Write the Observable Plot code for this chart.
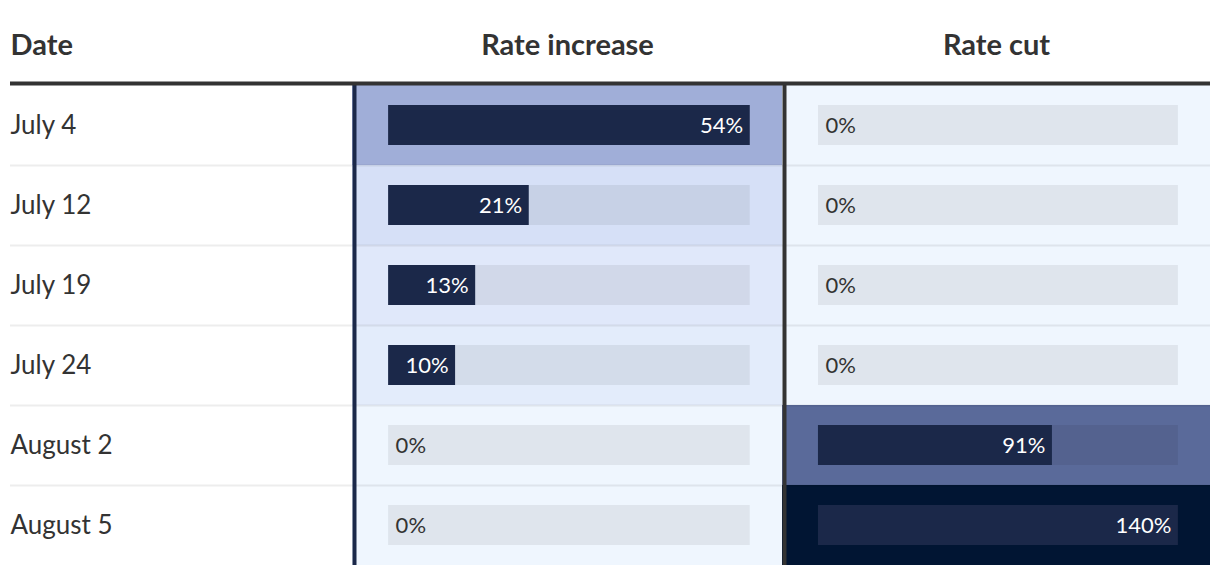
<!DOCTYPE html>
<html>
<head>
<meta charset="utf-8">
<script src="https://cdn.jsdelivr.net/npm/d3@7"></script>
<script src="https://cdn.jsdelivr.net/npm/@observablehq/plot@0.6"></script>
<style>
  html, body { margin: 0; padding: 0; background: #fff; }
</style>
</head>
<body>
<div id="chart"></div>
<script>
// ---- data ----
const columns = ["Date", "Rate increase", "Rate cut"];
const dates = ["July 4", "July 12", "July 19", "July 24", "August 2", "August 5"];
const rateIncrease = [54, 21, 13, 10, 0, 0];
const rateCut = [0, 0, 0, 0, 91, 140];

// ---- layout constants ----
const padL = 0.084, padR = 0.075;            // bar inset within a column (fraction)
const span = 1 - padL - padR;

const series = [rateIncrease, rateCut];
const cells = [];
series.forEach((vals, s) => {
  const max = d3.max(vals);
  vals.forEach((v, i) => cells.push({date: dates[i], row: i, col: s + 1, value: v, max}));
});
const barEnd = d => d.col + padL + (d.value / d.max) * span;

const chart = Plot.plot({
  width: 1220,
  height: 574,
  x: {type: "linear", domain: [0, 1, 2, 3], range: [10, 352, 782, 1210], axis: null},
  y: {type: "linear", domain: [0, 6], range: [85, 565], axis: null},
  color: {type: "linear", domain: [0, 21, 54, 91, 140], range: ["#eff6fe", "#d6e0f7", "#a0aed8", "#5a6a9a", "#011533"]},
  style: {fontFamily: "Lato, sans-serif", background: "#fff", overflow: "visible"},
  marks: [
    // heat cells
    Plot.rect(cells, {x1: d => d.col, x2: d => d.col + 1, y1: d => d.row, y2: d => d.row + 1, fill: d => d.value}),
    // bar tracks
    Plot.rect(cells, {x1: d => d.col + padL, x2: d => d.col + 1 - padR, y1: d => d.row + 0.25, y2: d => d.row + 0.75, fill: "#000", fillOpacity: 0.065}),
    // bars
    Plot.rect(cells.filter(d => d.value > 0), {x1: d => d.col + padL, x2: barEnd, y1: d => d.row + 0.25, y2: d => d.row + 0.75, fill: "#1b2849"}),
    // row separators
    Plot.ruleY(d3.range(1, dates.length), {x1: 0, x2: 3, stroke: "#000", strokeOpacity: 0.07, strokeWidth: 2}),
    // column borders
    Plot.ruleX([1], {y1: 0, y2: 6, stroke: "#1b2849", strokeWidth: 4, dx: 2}),
    Plot.ruleX([2], {y1: 0, y2: 6, stroke: "#333", strokeWidth: 4, dx: 2}),
    // header rule
    Plot.ruleY([0], {x1: 0, x2: 3, stroke: "#333", strokeWidth: 4, dy: -2}),
    // value labels
    Plot.text(cells.filter(d => d.value > 0), {x: barEnd, y: d => d.row + 0.5, text: d => d.value + "%", textAnchor: "end", dx: -7, fill: "#fff", fontSize: 22}),
    Plot.text(cells.filter(d => d.value === 0), {x: d => d.col + padL, y: d => d.row + 0.5, text: d => d.value + "%", textAnchor: "start", dx: 7, fill: "#333", fontSize: 22}),
    // date labels
    Plot.text(dates, {x: 0, y: (d, i) => i + 0.5, textAnchor: "start", fill: "#333", fontSize: 26}),
    // headers
    Plot.text(columns.slice(0, 1), {x: 0, y: -0.5, textAnchor: "start", fill: "#333", fontSize: 29, fontWeight: "bold"}),
    Plot.text(columns.slice(1), {x: (d, i) => i + 1.5, y: -0.5, textAnchor: "middle", fill: "#333", fontSize: 29, fontWeight: "bold"})
  ]
});
document.getElementById("chart").appendChild(chart);
</script>
</body>
</html>
